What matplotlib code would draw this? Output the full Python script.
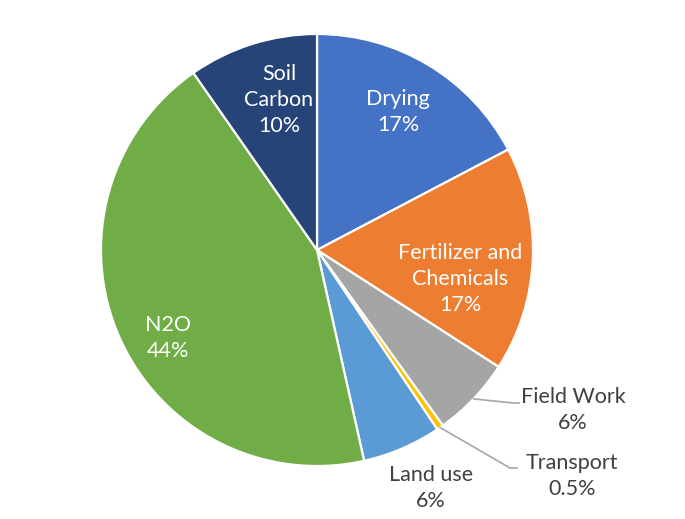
import numpy as np
import matplotlib
matplotlib.use("Agg")
import matplotlib.pyplot as plt

plt.rcParams['font.family'] = ['Lato', 'DejaVu Sans']

categories = ["Drying", "Fertilizer and\nChemicals", "Field Work", "Transport", "Land use", "N2O", "Soil\nCarbon"]
values = [17.3, 16.8, 6.0, 0.5, 5.9, 43.8, 9.7]
pct_labels = ["17%", "17%", "6%", "0.5%", "6%", "44%", "10%"]
colors = ["#4472C4", "#ED7D31", "#A5A5A5", "#FFC000", "#5B9BD5", "#70AD47", "#264478"]

W, H = 685, 519
fig = plt.figure(figsize=(W / 100, H / 100), dpi=100)
ax = fig.add_axes([0, 0, 1, 1])
ax.set_xlim(0, W)
ax.set_ylim(0, H)
ax.set_aspect('equal')
ax.axis('off')

cx, cy, R = 317, 269, 216
wedges, _ = ax.pie(values, colors=colors, startangle=90, counterclock=False,
                   center=(cx, cy), radius=R,
                   wedgeprops=dict(edgecolor='white', linewidth=1.6))
ax.set_xlim(0, W)
ax.set_ylim(0, H)

def mid(i):
    w = wedges[i]
    a = np.deg2rad((w.theta1 + w.theta2) / 2)
    return np.cos(a), np.sin(a)

FS = 15.5
LS = 1.38
# inside labels (white)
inside_pos = {0: (398, 407), 1: (460, 240), 5: (168, 181), 6: (279, 419)}
for i, (x, y) in inside_pos.items():
    ax.text(x, y, categories[i] + "\n" + pct_labels[i], color='white', fontsize=FS,
            ha='center', va='center', linespacing=LS)

dark = '#404040'
lc = '#A6A6A6'
# Field Work
c, s = mid(2)
sx, sy = cx + R * c, cy + R * s
ax.plot([sx, 513, 519], [sy, 116, 116], color=lc, lw=1.2)
ax.text(573, 109, categories[2] + "\n" + pct_labels[2], color=dark, fontsize=FS,
        ha='center', va='center', linespacing=LS)
# Transport
c, s = mid(3)
sx, sy = cx + R * c, cy + R * s
ax.plot([sx, 510, 517], [sy, 51, 51], color=lc, lw=1.2)
ax.text(572, 43, categories[3] + "\n" + pct_labels[3], color=dark, fontsize=FS,
        ha='center', va='center', linespacing=LS)
# Land use
ax.text(431, 31, categories[4] + "\n" + pct_labels[4], color=dark, fontsize=FS,
        ha='center', va='center', linespacing=LS)

fig.savefig("out.png", dpi=100, facecolor='white')
